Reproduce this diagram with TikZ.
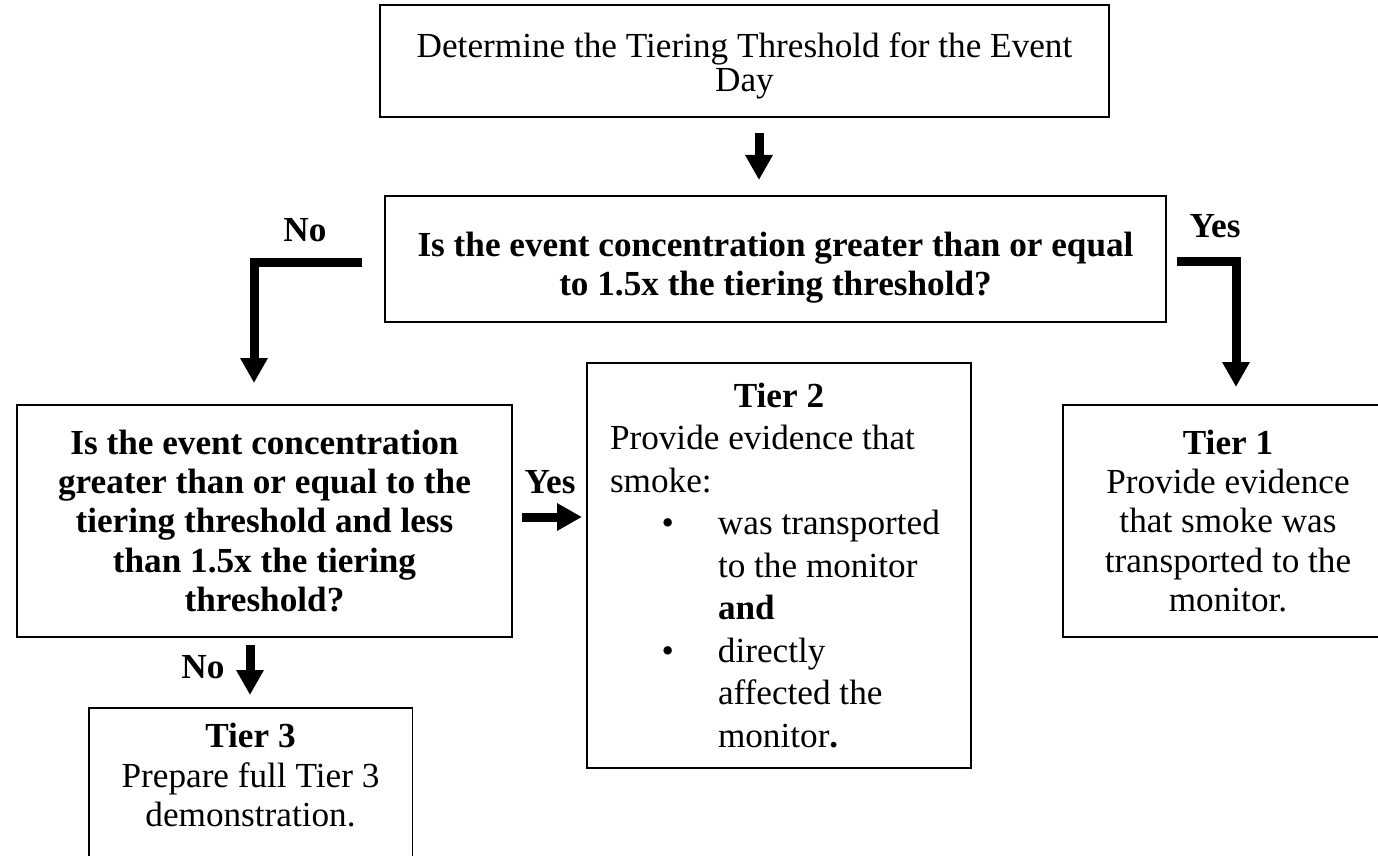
\documentclass[tikz,border=0pt]{standalone}
\usepackage{fontspec}
\setmainfont{Liberation Serif}
\usetikzlibrary{arrows.meta}
\begin{document}
\begin{tikzpicture}[x=0.5pt,y=-0.5pt,
  every node/.style={font=\fontsize{17.6pt}{19.6pt}\selectfont},
  box/.style={draw, line width=0.9pt, align=center, inner sep=0pt},
  bbox/.style={box, font=\fontsize{17.6pt}{19.6pt}\selectfont\bfseries},
  lbl/.style={font=\fontsize{17.6pt}{19.6pt}\selectfont\bfseries, anchor=base, inner sep=0pt},
  arr/.style={line width=4.5pt, -{Triangle[length=12.5pt,width=13pt]}}]
\useasboundingbox (0,0) rectangle (1378,856);
\clip (0,0) rectangle (1378,856);

% boxes
\node[box, minimum width=364.5pt, minimum height=56pt, font=\fontsize{17.6pt}{17pt}\selectfont] (top) at (744.5,61)
  {\rule{0pt}{17.5pt}Determine the Tiering Threshold for the Event\\Day};
\node[bbox, minimum width=390.5pt, minimum height=63pt] (q1) at (775.5,259)
  {\rule{0pt}{21pt}Is the event concentration greater than or equal\\to 1.5x the tiering threshold?};
\node[bbox, minimum width=247.5pt, minimum height=116pt] (q2) at (264.5,521)
  {Is the event concentration\\greater than or equal to the\\tiering threshold and less\\than 1.5x the tiering\\threshold?};
\node[box, minimum width=165pt, minimum height=116pt] (t1) at (1228,521)
  {\textbf{Tier 1}\\Provide evidence\\that smoke was\\transported to the\\monitor.};
\node[box, align=flush left, text width=169pt, inner xsep=11.5pt, inner ysep=0pt,
      minimum height=202.5pt, font=\fontsize{17.6pt}{21.25pt}\selectfont] (t2) at (779,565.5)
  {{\centering\textbf{Tier 2}\par}Provide evidence that\\smoke:\par
   {\leftskip=54pt \makebox[0pt][r]{\textbullet\hspace{22pt}}was transported\\to the monitor\\\textbf{and}\\\makebox[0pt][r]{\textbullet\hspace{22pt}}directly\\affected the\\monitor\textbf{.}\par}};
\node[anchor=north, align=flush center, text width=161.5pt, inner xsep=0pt, inner ysep=7.5pt] (t3) at (250.5,708)
  {\textbf{Tier 3}\\Prepare full Tier 3\\demonstration.};
\draw[line width=0.9pt] (t3.north west) ++(0,200) -- (t3.north west) -- (t3.north east) -- ++(0,200);

% labels
\node[lbl] (lno1) at (305,242) {No};
\node[lbl] (lyes1) at (1215,237) {Yes};
\node[lbl] (lyes2) at (550,493) {Yes};
\node[lbl] (lno2) at (203,678) {No};

% connector coordinates
\coordinate (a1s) at (759,133);
\coordinate (a1e) at (759,180);
\coordinate (nos) at (362,263);
\coordinate (noe) at (254,383);
\coordinate (yss) at (1177,262);
\coordinate (yse) at (1236,387);
\coordinate (yms) at (522,517);
\coordinate (yme) at (582,517);
\coordinate (nbs) at (250,645);
\coordinate (nbe) at (250,695);

% connectors
\draw[arr] (a1s) -- (a1e);
\draw[arr] (nos) -| (noe);
\draw[arr] (yss) -| (yse);
\draw[arr] (yms) -- (yme);
\draw[arr] (nbs) -- (nbe);
\end{tikzpicture}
\end{document}
